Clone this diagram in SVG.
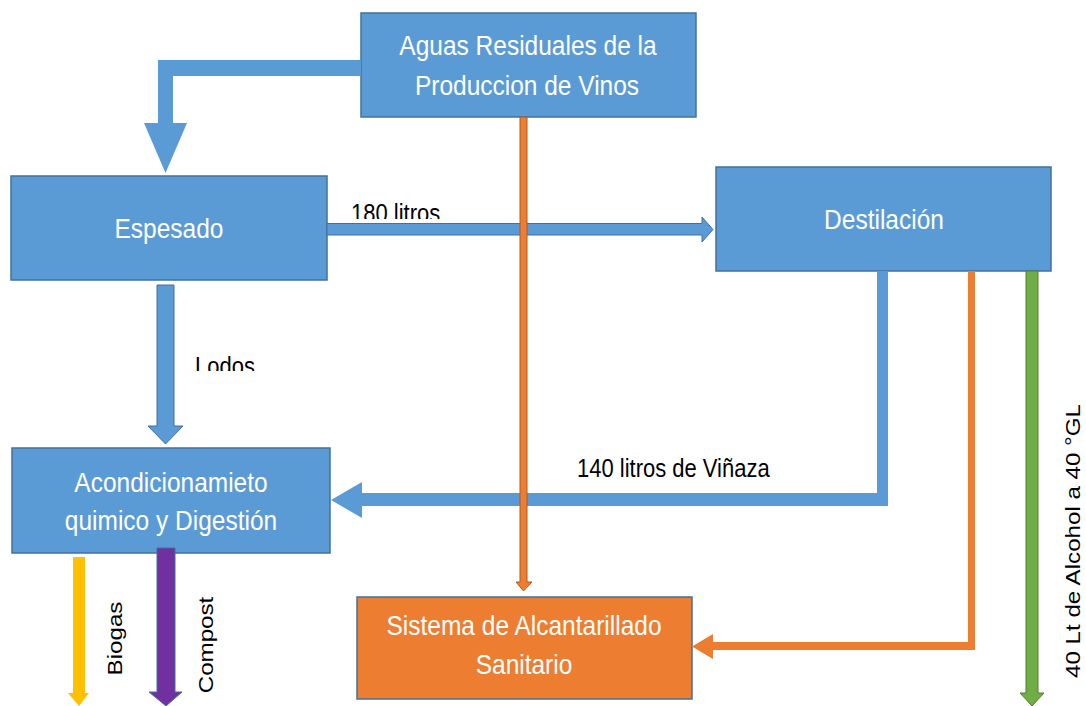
<svg xmlns="http://www.w3.org/2000/svg" width="1086" height="706" viewBox="0 0 1086 706">
<style>
.box{fill:#5B9BD5;stroke:#41719C;stroke-width:1.5}
.obox{fill:#ED7D31;stroke:#41719C;stroke-width:1.5}
.wt{fill:#FFFFFF;font-family:"Liberation Sans",Arial,sans-serif;font-size:24.5px;text-anchor:middle}
.bt{fill:#000000;font-family:"Liberation Sans",Arial,sans-serif;font-size:22px}
.rt{fill:#000000;font-family:"Liberation Sans",Arial,sans-serif;font-size:21px;text-anchor:middle}
.blue{fill:#5B9BD5}
.blueS{fill:#5B9BD5;stroke:#41719C;stroke-width:1}
.orange{fill:#ED7D31}
.orangeS{fill:#ED7D31;stroke:#AE5A21;stroke-width:1}
.green{fill:#70AD47;stroke:#507E32;stroke-width:1}
.yellow{fill:#FFC000}
.purple{fill:#7030A0;stroke:#41719C;stroke-width:1}
</style>
<defs>
<clipPath id="clip180" clipPathUnits="userSpaceOnUse"><rect x="340" y="195" width="120" height="24"/></clipPath>
<clipPath id="clipLodos" clipPathUnits="userSpaceOnUse"><rect x="185" y="345" width="80" height="26"/></clipPath>
</defs>
<rect width="1086" height="706" fill="#FFFFFF"/>

<g id="aguas">
<rect class="box" x="361" y="13" width="335" height="104"/>
<text class="wt" transform="translate(528,55) scale(1,1.15)">Aguas Residuales de la</text>
<text class="wt" transform="translate(527,95) scale(1,1.15)">Produccion de Vinos</text>
</g>

<g id="espesado">
<rect class="box" x="11" y="176" width="316" height="104"/>
<text class="wt" transform="translate(169,238) scale(1,1.15)">Espesado</text>
</g>

<g id="destilacion">
<rect class="box" x="716" y="167" width="335" height="104"/>
<text class="wt" transform="translate(884,229) scale(1,1.15)">Destilación</text>
</g>

<g id="acondicionamiento">
<rect class="box" x="12" y="448" width="318" height="105"/>
<text class="wt" transform="translate(171,492) scale(1,1.15)">Acondicionamieto</text>
<text class="wt" transform="translate(171,530) scale(1,1.15)">quimico y Digestión</text>
</g>

<g id="sistema">
<rect class="obox" x="357" y="597" width="335" height="102"/>
<text class="wt" transform="translate(524,635) scale(1,1.15)">Sistema de Alcantarillado</text>
<text class="wt" transform="translate(524,674) scale(1,1.15)">Sanitario</text>
</g>

<g id="connectors">
<!-- Aguas -> Espesado bent arrow -->
<polygon class="blue" points="361,60 158,60 158,123 144,123 165.5,173 187,123 173,123 173,76 361,76"/>
<!-- Espesado -> Destilacion (180 litros) -->
<polygon class="blueS" points="327,223.5 702,223.5 702,217 713,229.5 702,242 702,235 327,235"/>
<!-- Espesado -> Acondicionamiento (Lodos) -->
<polygon class="blueS" points="157,285 174,285 174,426 183,426 165.5,444 148,426 157,426"/>
<!-- Destilacion -> Acondicionamiento (Vinaza) -->
<polygon class="blue" points="877,271 888,271 888,506 362,506 362,518 331,500 362,482 362,493 877,493"/>
<!-- Destilacion -> Sistema -->
<polygon class="orange" points="968,271 975,271 975,650 713,650 713,659 692,646.5 713,634 713,642 968,642"/>
<!-- Aguas -> Sistema -->
<polygon class="orangeS" points="520,117 527,117 527,582 532,582 523.5,591 516,582 520,582"/>
<!-- Destilacion -> Alcohol -->
<polygon class="green" points="1026,271 1038,271 1038,693 1044,693 1032,706 1020,693 1026,693"/>
<!-- Biogas -->
<polygon class="yellow" points="73,557 85,557 85,693 89,693 79,706 68,693 73,693"/>
<!-- Compost -->
<polygon class="purple" points="157,548 175,548 175,692 182,692 166,706 149,692 157,692"/>

<g clip-path="url(#clip180)"><text class="bt" transform="translate(351,222) scale(1,1.15)">180 litros</text></g>
<g clip-path="url(#clipLodos)"><text class="bt" transform="translate(195,374.5) scale(1,1.15)" font-size="21">Lodos</text></g>
<text class="bt" transform="translate(577,477) scale(1,1.15)">140 litros de Viñaza</text>
<text class="rt" transform="translate(122,638.5) scale(1,1.15) rotate(-90)">Biogas</text>
<text class="rt" transform="translate(213,645) scale(1,1.15) rotate(-90)">Compost</text>
<text class="rt" transform="translate(1080,541) scale(1,1.15) rotate(-90)" font-size="23.5">40 Lt de Alcohol a 40 °GL</text>
</g>
</svg>
